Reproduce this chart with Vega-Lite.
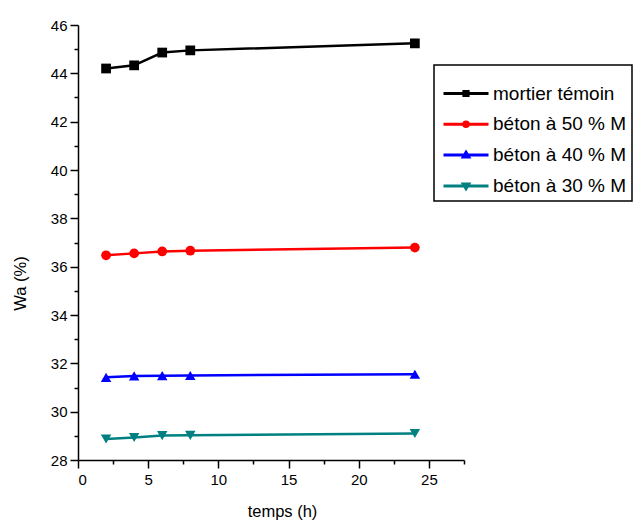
{
  "$schema": "https://vega.github.io/schema/vega-lite/v6.json",
  "width": 386,
  "height": 435,
  "autosize": {"type": "none"},
  "padding": {"left": 78, "top": 25, "right": 174, "bottom": 62},
  "background": "white",
  "config": {"font": "Liberation Sans", "view": {"stroke": null}},
  "data": {
    "values": [
      {"serie": "mortier témoin", "t": 2, "wa": 44.2},
      {"serie": "mortier témoin", "t": 4, "wa": 44.33},
      {"serie": "mortier témoin", "t": 6, "wa": 44.86},
      {"serie": "mortier témoin", "t": 8, "wa": 44.95},
      {"serie": "mortier témoin", "t": 24, "wa": 45.24},
      {"serie": "béton à 50 % M", "t": 2, "wa": 36.47},
      {"serie": "béton à 50 % M", "t": 4, "wa": 36.55},
      {"serie": "béton à 50 % M", "t": 6, "wa": 36.63},
      {"serie": "béton à 50 % M", "t": 8, "wa": 36.66},
      {"serie": "béton à 50 % M", "t": 24, "wa": 36.79},
      {"serie": "béton à 40 % M", "t": 2, "wa": 31.42},
      {"serie": "béton à 40 % M", "t": 4, "wa": 31.48},
      {"serie": "béton à 40 % M", "t": 6, "wa": 31.49},
      {"serie": "béton à 40 % M", "t": 8, "wa": 31.5},
      {"serie": "béton à 40 % M", "t": 24, "wa": 31.55},
      {"serie": "béton à 30 % M", "t": 2, "wa": 28.87},
      {"serie": "béton à 30 % M", "t": 4, "wa": 28.93},
      {"serie": "béton à 30 % M", "t": 6, "wa": 29.01},
      {"serie": "béton à 30 % M", "t": 8, "wa": 29.02},
      {"serie": "béton à 30 % M", "t": 24, "wa": 29.1}
    ]
  },
  "encoding": {
    "x": {
      "field": "t",
      "type": "quantitative",
      "scale": {"domain": [0, 27.5], "nice": false, "zero": false},
      "axis": {
        "title": "temps (h)",
        "values": [0, 2.5, 5, 7.5, 10, 12.5, 15, 17.5, 20, 22.5, 25, 27.5],
        "labelExpr": "datum.value % 5 === 0 ? datum.label : ''",
        "tickSize": {"condition": {"test": "datum.value % 5 === 0", "value": 8}, "value": 4},
        "grid": false,
        "domainColor": "black",
        "domainWidth": 1.5,
        "tickColor": "black",
        "tickWidth": 1.5,
        "labelFontSize": 15,
        "labelColor": "black",
        "labelPadding": 4,
        "titleFontSize": 16.5,
        "titleFontWeight": "normal",
        "titleColor": "black",
        "titleX": 204,
        "titleY": 56,
        "titleBaseline": "alphabetic"
      }
    },
    "y": {
      "field": "wa",
      "type": "quantitative",
      "scale": {"domain": [28, 46], "nice": false, "zero": false},
      "axis": {
        "title": "Wa (%)",
        "values": [28, 29, 30, 31, 32, 33, 34, 35, 36, 37, 38, 39, 40, 41, 42, 43, 44, 45, 46],
        "labelExpr": "datum.value % 2 === 0 ? datum.label : ''",
        "tickSize": {"condition": {"test": "datum.value % 2 === 0", "value": 8}, "value": 4},
        "grid": false,
        "domainColor": "black",
        "domainWidth": 1.5,
        "tickColor": "black",
        "tickWidth": 1.5,
        "labelFontSize": 15,
        "labelColor": "black",
        "labelPadding": 3,
        "titleFontSize": 16.5,
        "titleFontWeight": "normal",
        "titleColor": "black",
        "titleX": -58,
        "titleY": 258,
        "titleBaseline": "middle"
      }
    },
    "color": {
      "field": "serie",
      "type": "nominal",
      "scale": {
        "domain": ["mortier témoin", "béton à 50 % M", "béton à 40 % M", "béton à 30 % M"],
        "range": ["#000000", "#ff0000", "#0000ff", "#008080"]
      },
      "legend": {
        "title": "\u00a0",
        "titleFontSize": 10,
        "titlePadding": 4,
        "orient": "none",
        "legendX": 356,
        "legendY": 40,
        "padding": 5,
        "strokeColor": "black",
        "fillColor": "white",
        "labelFontSize": 19,
        "labelColor": "black",
        "labelFont": "Liberation Sans",
        "labelLimit": 400,
        "symbolSize": 100,
        "symbolStrokeWidth": 3,
        "symbolOffset": 17.5,
        "labelOffset": 17.5,
        "rowPadding": 10.8,
        "encode": {
          "legend": {"update": {"strokeWidth": {"value": 1.5}}},
          "symbols": {
            "update": {
              "shape": {"signal": "datum.value === 'mortier témoin' ? 'M-4.5,0H4.5M-0.42,-0.42H0.42V0.42H-0.42Z' : datum.value === 'béton à 50 % M' ? 'M-4.5,0H4.5M-0.45,0A0.45,0.45 0 1,0 0.45,0A0.45,0.45 0 1,0 -0.45,0Z' : datum.value === 'béton à 40 % M' ? 'M-4.5,0H4.5M0,-0.55L0.55,0.38L-0.55,0.38Z' : 'M-4.5,0H4.5M0,0.55L0.55,-0.38L-0.55,-0.38Z'"},
              "fill": {"signal": "scale('color', datum.value)"},
              "stroke": {"signal": "scale('color', datum.value)"},
              "strokeWidth": {"value": 3},
              "opacity": {"value": 1}
            }
          }
        }
      }
    }
  },
  "layer": [
    {"mark": {"type": "line", "strokeWidth": 2.5}},
    {
      "transform": [{"filter": {"field": "serie", "equal": "mortier témoin"}}],
      "mark": {"type": "point", "filled": true, "opacity": 1, "size": 95, "shape": "square"}
    },
    {
      "transform": [{"filter": {"field": "serie", "equal": "béton à 50 % M"}}],
      "mark": {"type": "point", "filled": true, "opacity": 1, "size": 95, "shape": "circle"}
    },
    {
      "transform": [{"filter": {"field": "serie", "equal": "béton à 40 % M"}}],
      "mark": {"type": "point", "filled": true, "opacity": 1, "size": 110, "shape": "triangle-up"}
    },
    {
      "transform": [{"filter": {"field": "serie", "equal": "béton à 30 % M"}}],
      "mark": {"type": "point", "filled": true, "opacity": 1, "size": 110, "shape": "triangle-down"}
    }
  ]
}
